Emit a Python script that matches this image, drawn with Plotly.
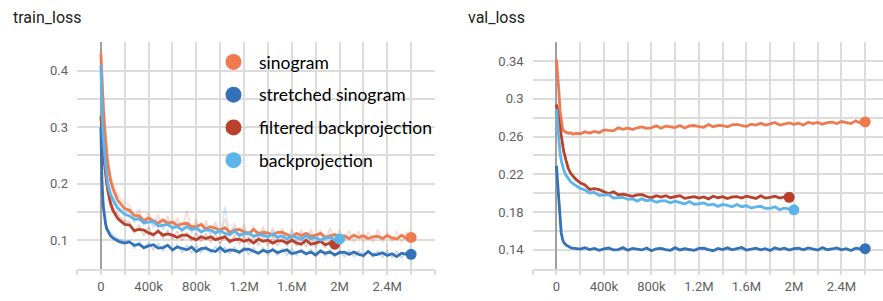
import plotly.graph_objects as go

# ---------------- data ----------------
# training steps (thousands)
steps_long_k = [0, 5, 10, 20, 30, 40, 50, 60, 80, 100, 120, 140, 160, 200,
                240, 280, 320, 360, 400, 440, 480, 520, 560, 600, 640, 680, 720, 760, 800,
                840, 880, 920, 960, 1000, 1040, 1080, 1120, 1160, 1200, 1240, 1280, 1320,
                1360, 1400, 1440, 1480, 1520, 1560, 1600, 1640, 1680, 1720, 1760, 1800,
                1840, 1880, 1920, 1960, 2000, 2040, 2080, 2120, 2160, 2200, 2240, 2280,
                2320, 2360, 2400, 2440, 2480, 2520, 2560, 2600]
steps_bp_k = [0, 5, 10, 20, 30, 40, 50, 60, 80, 100, 120, 140, 160, 200,
              240, 280, 320, 360, 400, 440, 480, 520, 560, 600, 640, 680, 720, 760, 800,
              840, 880, 920, 960, 1000, 1040, 1080, 1120, 1160, 1200, 1240, 1280, 1320,
              1360, 1400, 1440, 1480, 1520, 1560, 1600, 1640, 1680, 1720, 1760, 1800,
              1840, 1880, 1920, 1960, 2000]
steps_fbp_k = [0, 5, 10, 20, 30, 40, 50, 60, 80, 100, 120, 140, 160, 200,
               240, 280, 320, 360, 400, 440, 480, 520, 560, 600, 640, 680, 720, 760, 800,
               840, 880, 920, 960, 1000, 1040, 1080, 1120, 1160, 1200, 1240, 1280, 1320,
               1360, 1400, 1440, 1480, 1520, 1560, 1600, 1640, 1680, 1720, 1760, 1800,
               1840, 1880, 1920, 1960]

series_names = ["sinogram", "stretched sinogram", "filtered backprojection", "backprojection"]
series_colors = ["#f07a50", "#3372b8", "#b9402a", "#5bb5ea"]

# train_loss (smoothed)
train_sino = [0.430, 0.398, 0.372, 0.338, 0.302, 0.272, 0.251, 0.232, 0.207, 0.192, 0.181, 0.171, 0.166, 0.156,
              0.153, 0.144, 0.143, 0.135, 0.139, 0.135, 0.130, 0.136, 0.130, 0.132,
              0.126, 0.129, 0.130, 0.124, 0.124, 0.128, 0.120, 0.124, 0.121, 0.118,
              0.122, 0.114, 0.118, 0.119, 0.115, 0.112, 0.119, 0.112, 0.114, 0.113,
              0.109, 0.114, 0.114, 0.110, 0.106, 0.112, 0.108, 0.112, 0.107, 0.109,
              0.112, 0.105, 0.108, 0.110, 0.106, 0.108, 0.103, 0.109, 0.105, 0.108,
              0.103, 0.106, 0.107, 0.103, 0.108, 0.104, 0.102, 0.109, 0.103, 0.105]
train_stretch = [0.300, 0.240, 0.200, 0.160, 0.140, 0.128, 0.120, 0.115, 0.108, 0.104, 0.101, 0.099, 0.097, 0.095,
                 0.097, 0.091, 0.093, 0.087, 0.090, 0.092, 0.086, 0.087, 0.091, 0.083,
                 0.088, 0.085, 0.083, 0.088, 0.080, 0.085, 0.086, 0.082, 0.080, 0.087,
                 0.080, 0.083, 0.082, 0.079, 0.084, 0.084, 0.080, 0.077, 0.082, 0.079,
                 0.083, 0.078, 0.081, 0.083, 0.076, 0.079, 0.081, 0.076, 0.079, 0.074,
                 0.081, 0.077, 0.079, 0.074, 0.078, 0.079, 0.075, 0.079, 0.075, 0.073,
                 0.080, 0.074, 0.075, 0.078, 0.073, 0.076, 0.071, 0.077, 0.075, 0.075]
train_fbp = [0.320, 0.300, 0.281, 0.258, 0.236, 0.214, 0.199, 0.186, 0.166, 0.153, 0.145, 0.139, 0.135, 0.128,
             0.127, 0.117, 0.119, 0.118, 0.113, 0.110, 0.116, 0.109, 0.111, 0.109,
             0.105, 0.109, 0.109, 0.104, 0.101, 0.106, 0.103, 0.106, 0.101, 0.103,
             0.106, 0.098, 0.101, 0.102, 0.098, 0.101, 0.095, 0.102, 0.098, 0.100,
             0.095, 0.099, 0.099, 0.095, 0.100, 0.095, 0.093, 0.100, 0.093, 0.095,
             0.098, 0.092, 0.095, 0.093]
train_bp = [0.410, 0.362, 0.322, 0.282, 0.252, 0.231, 0.212, 0.197, 0.181, 0.171, 0.164, 0.157, 0.153, 0.146,
            0.143, 0.137, 0.138, 0.131, 0.132, 0.133, 0.125, 0.127, 0.128, 0.122,
            0.124, 0.118, 0.124, 0.119, 0.121, 0.115, 0.118, 0.118, 0.113, 0.117,
            0.112, 0.110, 0.116, 0.109, 0.111, 0.113, 0.107, 0.110, 0.109, 0.106,
            0.111, 0.105, 0.108, 0.102, 0.108, 0.105, 0.102, 0.108, 0.103, 0.105,
            0.100, 0.104, 0.105, 0.100, 0.102]

# train_loss (raw, faint)
train_sino_raw = [0.435, 0.415, 0.395, 0.360, 0.325, 0.290, 0.270, 0.245, 0.220, 0.200, 0.190, 0.180, 0.176, 0.166,
                  0.162, 0.138, 0.155, 0.130, 0.150, 0.126, 0.146, 0.122, 0.143, 0.120,
                  0.140, 0.118, 0.152, 0.116, 0.137, 0.113, 0.135, 0.112, 0.132, 0.110,
                  0.138, 0.108, 0.130, 0.107, 0.128, 0.106, 0.125, 0.104, 0.124, 0.103,
                  0.122, 0.102, 0.121, 0.101, 0.120, 0.100, 0.119, 0.099, 0.120, 0.098,
                  0.118, 0.098, 0.122, 0.099, 0.119, 0.097, 0.117, 0.096, 0.116, 0.097,
                  0.115, 0.096, 0.119, 0.096, 0.115, 0.097, 0.116, 0.096, 0.114, 0.104]
train_stretch_raw = [0.305, 0.250, 0.210, 0.170, 0.148, 0.135, 0.126, 0.120, 0.113, 0.108, 0.105, 0.103, 0.101, 0.099,
                     0.099, 0.086, 0.097, 0.084, 0.095, 0.083, 0.094, 0.081, 0.093, 0.080,
                     0.092, 0.079, 0.091, 0.078, 0.090, 0.078, 0.090, 0.077, 0.089, 0.077,
                     0.088, 0.076, 0.088, 0.076, 0.087, 0.075, 0.087, 0.075, 0.086, 0.074,
                     0.086, 0.074, 0.085, 0.073, 0.085, 0.073, 0.084, 0.073, 0.084, 0.072,
                     0.083, 0.072, 0.083, 0.071, 0.083, 0.071, 0.082, 0.071, 0.082, 0.070,
                     0.081, 0.070, 0.081, 0.070, 0.081, 0.069, 0.080, 0.069, 0.080, 0.075]
train_fbp_raw = [0.325, 0.305, 0.290, 0.265, 0.245, 0.225, 0.210, 0.195, 0.175, 0.160, 0.152, 0.146, 0.141, 0.134,
                 0.132, 0.113, 0.127, 0.108, 0.123, 0.105, 0.120, 0.103, 0.118, 0.101,
                 0.116, 0.099, 0.114, 0.098, 0.113, 0.097, 0.112, 0.096, 0.111, 0.094,
                 0.110, 0.093, 0.109, 0.093, 0.108, 0.092, 0.108, 0.091, 0.107, 0.091,
                 0.106, 0.090, 0.105, 0.089, 0.105, 0.089, 0.104, 0.088, 0.103, 0.088,
                 0.102, 0.087, 0.100, 0.092]
train_bp_raw = [0.412, 0.370, 0.330, 0.290, 0.260, 0.240, 0.220, 0.205, 0.190, 0.178, 0.170, 0.163, 0.158, 0.152,
                0.150, 0.130, 0.146, 0.125, 0.142, 0.121, 0.139, 0.118, 0.136, 0.116,
                0.134, 0.113, 0.133, 0.111, 0.131, 0.109, 0.129, 0.108, 0.127, 0.106,
                0.160, 0.105, 0.124, 0.103, 0.122, 0.102, 0.121, 0.100, 0.120, 0.099,
                0.118, 0.098, 0.117, 0.097, 0.116, 0.096, 0.115, 0.095, 0.114, 0.094,
                0.113, 0.094, 0.112, 0.094, 0.106]

# val_loss (smoothed)
val_sino = [0.342, 0.335, 0.325, 0.309, 0.288, 0.275, 0.269, 0.266, 0.2645, 0.2635, 0.264, 0.2625, 0.2635, 0.263,
            0.2650, 0.2637, 0.2654, 0.2641, 0.2671, 0.2668, 0.2660, 0.2692, 0.2676, 0.2692,
            0.2674, 0.2693, 0.2703, 0.2686, 0.2692, 0.2714, 0.2688, 0.2710, 0.2703, 0.2696,
            0.2717, 0.2691, 0.2712, 0.2717, 0.2706, 0.2699, 0.2728, 0.2705, 0.2718, 0.2715,
            0.2704, 0.2725, 0.2730, 0.2716, 0.2706, 0.2732, 0.2722, 0.2740, 0.2722, 0.2735,
            0.2749, 0.2722, 0.2735, 0.2744, 0.2729, 0.2742, 0.2723, 0.2752, 0.2737, 0.2750,
            0.2731, 0.2748, 0.2753, 0.2738, 0.2759, 0.2744, 0.2737, 0.2766, 0.2744, 0.2755]
val_stretch = [0.229, 0.220, 0.205, 0.185, 0.170, 0.158, 0.152, 0.148, 0.145, 0.143, 0.142, 0.1415, 0.141, 0.1405,
               0.1421, 0.1401, 0.1413, 0.1393, 0.1409, 0.1417, 0.1397, 0.1401, 0.1421, 0.1393,
               0.1413, 0.1405, 0.1397, 0.1417, 0.1389, 0.1409, 0.1413, 0.1401, 0.1393, 0.1421,
               0.1397, 0.1409, 0.1405, 0.1393, 0.1413, 0.1417, 0.1401, 0.1389, 0.1413, 0.1401,
               0.1419, 0.1399, 0.1411, 0.1423, 0.1395, 0.1407, 0.1415, 0.1399, 0.1411, 0.1391,
               0.1419, 0.1403, 0.1415, 0.1395, 0.1411, 0.1415, 0.1399, 0.1419, 0.1403, 0.1395,
               0.1423, 0.1399, 0.1407, 0.1419, 0.1399, 0.1411, 0.1391, 0.1415, 0.1407, 0.1410]
val_fbp = [0.294, 0.290, 0.285, 0.275, 0.265, 0.257, 0.250, 0.245, 0.235, 0.226, 0.221, 0.218, 0.215, 0.211,
           0.2087, 0.2039, 0.2047, 0.2036, 0.2011, 0.1993, 0.2014, 0.1982, 0.1989, 0.1980,
           0.1965, 0.1982, 0.1983, 0.1964, 0.1950, 0.1972, 0.1958, 0.1972, 0.1951, 0.1962,
           0.1973, 0.1944, 0.1956, 0.1963, 0.1947, 0.1959, 0.1939, 0.1967, 0.1951, 0.1963,
           0.1943, 0.1959, 0.1963, 0.1947, 0.1967, 0.1951, 0.1943, 0.1971, 0.1947, 0.1955,
           0.1967, 0.1947, 0.1959, 0.1956]
val_bp = [0.289, 0.280, 0.270, 0.255, 0.243, 0.235, 0.229, 0.225, 0.219, 0.215, 0.212, 0.210, 0.208, 0.205,
          0.2033, 0.2001, 0.2007, 0.1977, 0.1979, 0.1983, 0.1948, 0.1953, 0.1955, 0.1933,
          0.1940, 0.1915, 0.1939, 0.1919, 0.1928, 0.1904, 0.1917, 0.1917, 0.1898, 0.1915,
          0.1896, 0.1885, 0.1910, 0.1882, 0.1887, 0.1896, 0.1873, 0.1882, 0.1859, 0.1880,
          0.1869, 0.1854, 0.1879, 0.1856, 0.1865, 0.1842, 0.1855, 0.1860, 0.1837, 0.1838,
          0.1855, 0.1824, 0.1841, 0.1830, 0.1823]

# axis ticks
x_tick_k = [-200, 0, 200, 400, 600, 800, 1000, 1200, 1400, 1600, 1800, 2000, 2200, 2400, 2600, 2800]
x_tick_text = ["", "0", "", "400k", "", "800k", "", "1.2M", "", "1.6M", "", "2M", "", "2.4M", "", ""]
train_y_ticks = [0.05, 0.10, 0.15, 0.20, 0.25, 0.30, 0.35, 0.40, 0.45]
train_y_text = ["", "0.1", "", "0.2", "", "0.3", "", "0.4", ""]
val_y_ticks = [0.12, 0.14, 0.16, 0.18, 0.20, 0.22, 0.24, 0.26, 0.28, 0.30, 0.32, 0.34, 0.36]
val_y_text = ["", "0.14", "", "0.18", "", "0.22", "", "0.26", "", "0.3", "", "0.34", ""]

# ---------------- figure ----------------
W, H = 883, 301
fig = go.Figure()

xl = [s * 1000 for s in steps_long_k]
xb = [s * 1000 for s in steps_bp_k]
xf = [s * 1000 for s in steps_fbp_k]

train_sets = [(xl, train_sino, train_sino_raw), (xl, train_stretch, train_stretch_raw),
              (xf, train_fbp, train_fbp_raw), (xb, train_bp, train_bp_raw)]
val_sets = [(xl, val_sino), (xl, val_stretch), (xf, val_fbp), (xb, val_bp)]
draw_order = [0, 2, 1, 3]

# raw faint traces (train)
for i in draw_order:
    x, _, raw = train_sets[i]
    fig.add_trace(go.Scatter(x=x, y=raw, mode="lines", xaxis="x", yaxis="y",
                             line=dict(color=series_colors[i], width=1.5), opacity=0.28,
                             showlegend=False, hoverinfo="skip"))
for i in draw_order:
    x, sm, _ = train_sets[i]
    fig.add_trace(go.Scatter(x=x, y=sm, mode="lines", xaxis="x", yaxis="y",
                             line=dict(color=series_colors[i], width=2.8),
                             showlegend=False))
    fig.add_trace(go.Scatter(x=[x[-1]], y=[sm[-1]], mode="markers", xaxis="x", yaxis="y",
                             marker=dict(color=series_colors[i], size=11),
                             showlegend=False))
for i in draw_order:
    x, sm = val_sets[i]
    fig.add_trace(go.Scatter(x=x, y=sm, mode="lines", xaxis="x2", yaxis="y2",
                             line=dict(color=series_colors[i], width=2.8),
                             showlegend=False))
    fig.add_trace(go.Scatter(x=[x[-1]], y=[sm[-1]], mode="markers", xaxis="x2", yaxis="y2",
                             marker=dict(color=series_colors[i], size=11),
                             showlegend=False))
# legend entries
for i, name in enumerate(series_names):
    fig.add_trace(go.Scatter(x=[None], y=[None], mode="markers", name=name,
                             legendgroup=name, xaxis="x", yaxis="y",
                             marker=dict(color=series_colors[i], size=16)))

grid_col = "#dcdcdc"
tick_font = dict(family="Roboto", size=13, color="#616161")
xt = [v * 1000 for v in x_tick_k]
xaxis_common = dict(tickmode="array", tickvals=xt, ticktext=x_tick_text,
                    showgrid=True, gridcolor=grid_col, gridwidth=1.5,
                    zeroline=True, zerolinecolor="#a0a0a0", zerolinewidth=2,
                    ticks="outside", ticklen=5, tickcolor=grid_col, tickwidth=1.5,
                    showline=True, linecolor=grid_col, linewidth=1.5,
                    tickfont=tick_font, fixedrange=True)
yaxis_common = dict(tickmode="array", showgrid=True, gridcolor=grid_col, gridwidth=1.5,
                    zeroline=False, ticks="", ticklabelstandoff=8,
                    tickfont=tick_font, showline=False)

y_dom = [1 - 268.5 / H, 1 - 42.3 / H]
fig.update_layout(
    width=W, height=H,
    margin=dict(l=0, r=0, t=0, b=0),
    paper_bgcolor="white", plot_bgcolor="white",
    xaxis=dict(domain=[77 / W, 435 / W], range=[-200000, 2800000], anchor="y", **xaxis_common),
    yaxis=dict(domain=y_dom, range=[0.05, 0.45], anchor="x",
               tickvals=train_y_ticks, ticktext=train_y_text, **yaxis_common),
    xaxis2=dict(domain=[532.7 / W, 1.0], range=[-200000, 2750000], anchor="y2", **xaxis_common),
    yaxis2=dict(domain=y_dom, range=[0.12, 0.36], anchor="x2",
                tickvals=val_y_ticks, ticktext=val_y_text, **yaxis_common),
    legend=dict(x=208 / W, y=1 - 44 / H, xanchor="left", yanchor="top",
                bgcolor="rgba(0,0,0,0)", font=dict(family="Lato", size=17.5, color="#000000"),
                tracegroupgap=7, itemsizing="trace", itemwidth=41),
    showlegend=True,
    annotations=[
        dict(text="train_loss", x=11 / W, y=1 - 18 / H, xref="paper", yref="paper",
             xanchor="left", yanchor="middle", showarrow=False,
             font=dict(family="Roboto", size=16, color="#212121")),
        dict(text="val_loss", x=466 / W, y=1 - 18 / H, xref="paper", yref="paper",
             xanchor="left", yanchor="middle", showarrow=False,
             font=dict(family="Roboto", size=16, color="#212121")),
    ],
)

fig.write_html("out.html", config={"displayModeBar": False},
               post_script="document.body.style.margin='0px';")
